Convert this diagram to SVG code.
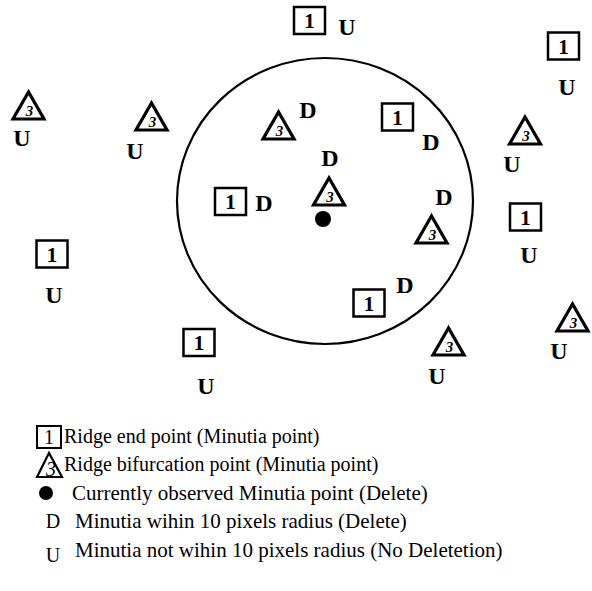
<svg xmlns="http://www.w3.org/2000/svg" width="592" height="591" viewBox="0 0 592 591">
<style>
.bx{fill:#fff;stroke:#000;stroke-width:2.5}
.tr{fill:#fff;stroke:#000;stroke-width:3.2;stroke-linejoin:miter}
.one{font-family:"Liberation Serif",serif;font-weight:bold;font-size:21px;text-anchor:middle}
.three{font-family:"Liberation Serif",serif;font-weight:bold;font-style:italic;font-size:15px;text-anchor:middle}
.lbl{font-family:"Liberation Serif",serif;font-weight:bold;font-size:24px;text-anchor:middle}
.leg{font-family:"Liberation Serif",serif;font-size:20px}
.leg2{font-family:"Liberation Serif",serif;font-size:21px}
.legk{font-family:"Liberation Serif",serif;font-size:20px;text-anchor:middle}
</style>
<defs>
<g id="box"><rect class="bx" x="-15.5" y="-13.5" width="31" height="27"/><text class="one" x="0" y="7.5">1</text></g>
<g id="tri"><polygon class="tr" points="0,-14 -15.5,13 15.5,13"/><text class="three" x="1" y="10">3</text></g>
</defs>
<ellipse id="radius" cx="325" cy="201" rx="148" ry="143" fill="none" stroke="#000" stroke-width="2.2"/>
<g id="b1"><use href="#box" x="309.5" y="20.5"/><text class="lbl" x="347" y="34.5">U</text></g>
<g id="b2"><use href="#box" x="563.5" y="46"/><text class="lbl" x="567" y="95">U</text></g>
<g id="b3"><use href="#box" x="397.5" y="117"/><text class="lbl" x="431" y="149.5">D</text></g>
<g id="b4"><use href="#box" x="230.5" y="201.5"/><text class="lbl" x="264" y="210.5">D</text></g>
<g id="b5"><use href="#box" x="52" y="254"/><text class="lbl" x="54" y="302.5">U</text></g>
<g id="b6"><use href="#box" x="525.5" y="217"/><text class="lbl" x="529" y="262.5">U</text></g>
<g id="b7"><use href="#box" x="369" y="303"/><text class="lbl" x="405" y="292.5">D</text></g>
<g id="b8"><use href="#box" x="199" y="342.5"/><text class="lbl" x="206" y="393.5">U</text></g>
<g id="t1"><use href="#tri" x="28.5" y="106"/><text class="lbl" x="22" y="145.5">U</text></g>
<g id="t2"><use href="#tri" x="151.5" y="117"/><text class="lbl" x="135" y="158.5">U</text></g>
<g id="t3"><use href="#tri" x="278.5" y="126"/><text class="lbl" x="308" y="117.5">D</text></g>
<g id="t4"><use href="#tri" x="329" y="192"/></g>
<g id="t5"><use href="#tri" x="525" y="131"/><text class="lbl" x="512" y="171.5">U</text></g>
<g id="t6"><use href="#tri" x="431.5" y="230"/><text class="lbl" x="444" y="204.5">D</text></g>
<g id="t7"><use href="#tri" x="448.5" y="342"/><text class="lbl" x="437" y="383.5">U</text></g>
<g id="t8"><use href="#tri" x="572.5" y="318"/><text class="lbl" x="559" y="358.5">U</text></g>
<g id="d1"><text class="lbl" x="330" y="165.5">D</text></g>
<g id="dot"><circle cx="323" cy="219" r="8" fill="#000"/></g>
<g id="connectors"></g>
<g id="legend">
<g id="leg1"><rect x="37" y="426" width="24" height="22" fill="#fff" stroke="#000" stroke-width="2"/><text class="legk" x="49" y="444">1</text><text class="leg" x="64" y="443">Ridge end point (Minutia point)</text></g>
<g id="leg2"><polygon points="49,453 37,477 62,477" fill="#fff" stroke="#000" stroke-width="2.2"/><text class="legk" x="51" y="476" font-size="14" font-style="italic">3</text><text class="leg" x="64" y="471">Ridge bifurcation point (Minutia point)</text></g>
<g id="leg3"><circle cx="46" cy="493" r="7" fill="#000"/><text class="leg2" x="72" y="500">Currently observed Minutia point (Delete)</text></g>
<g id="leg4"><text class="legk" x="53" y="528">D</text><text class="leg2" x="75" y="528">Minutia wihin 10 pixels radius (Delete)</text></g>
<g id="leg5"><text class="legk" x="53" y="562">U</text><text class="leg2" x="75" y="557">Minutia not wihin 10 pixels radius (No Deletetion)</text></g>
</g>
</svg>
